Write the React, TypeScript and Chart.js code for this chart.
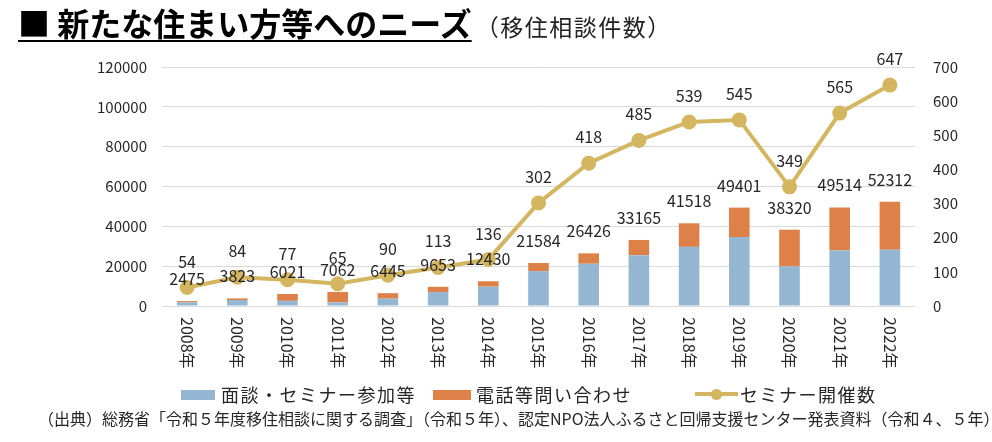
import React, { useEffect, useRef } from "react";
import { Chart, registerables } from "chart.js";

Chart.register(...registerables);

const years = ["2008年","2009年","2010年","2011年","2012年","2013年","2014年","2015年","2016年","2017年","2018年","2019年","2020年","2021年","2022年"];
const interviews = [1800, 3000, 2600, 1800, 3700, 7000, 9700, 17500, 21200, 25500, 29700, 34600, 19900, 27900, 28300];
const phoneInquiries = [675, 823, 3421, 5262, 2745, 2653, 2730, 4084, 5226, 7665, 11818, 14801, 18420, 21614, 24012];
const totalLabels = [2475, 3823, 6021, 7062, 6445, 9653, 12430, 21584, 26426, 33165, 41518, 49401, 38320, 49514, 52312];
const seminars = [54, 84, 77, 65, 90, 113, 136, 302, 418, 485, 539, 545, 349, 565, 647];
const leftTicks = [0, 20000, 40000, 60000, 80000, 100000, 120000];
const rightTicks = [0, 100, 200, 300, 400, 500, 600, 700];

const BLUE = "#94b6d3";
const ORANGE = "#dd8148";
const GOLD = "#d4b660";
const TEXT = "#262626";
const FONT = "'Noto Sans CJK JP', 'Noto Sans', sans-serif";

const labelPlugin = {
  id: "customLabels",
  afterDatasetsDraw(chart: any) {
    const ctx = chart.ctx;
    ctx.save();
    ctx.fillStyle = TEXT;
    ctx.font = `16px ${FONT}`;
    ctx.textAlign = "center";
    ctx.textBaseline = "middle";
    const top = chart.getDatasetMeta(1);
    totalLabels.forEach((t, i) => {
      const el = top.data[i];
      ctx.fillText(String(t), el.x, el.y - 22);
    });
    const line = chart.getDatasetMeta(2);
    seminars.forEach((s, i) => {
      const el = line.data[i];
      ctx.fillText(String(s), el.x, el.y - 26);
    });
    const xs = chart.scales.x;
    ctx.textAlign = "left";
    years.forEach((y, i) => {
      const x = xs.getPixelForTick(i);
      ctx.save();
      ctx.translate(x, chart.chartArea.bottom + 11);
      ctx.rotate(Math.PI / 2);
      ctx.fillText(y, 0, 0);
      ctx.restore();
    });
    ctx.restore();
  },
};

export default function App() {
  const ref = useRef<HTMLCanvasElement>(null);
  useEffect(() => {
    const chart = new Chart(ref.current as HTMLCanvasElement, {
      type: "bar",
      data: {
        labels: years,
        datasets: [
          { type: "bar", label: "面談・セミナー参加等", data: interviews, backgroundColor: BLUE, stack: "s", yAxisID: "y", order: 1, barPercentage: 0.41, categoryPercentage: 1 },
          { type: "bar", label: "電話等問い合わせ", data: phoneInquiries, backgroundColor: ORANGE, stack: "s", yAxisID: "y", order: 2, barPercentage: 0.41, categoryPercentage: 1 },
          { type: "line", label: "セミナー開催数", data: seminars, borderColor: GOLD, backgroundColor: GOLD, borderWidth: 4, pointRadius: 5.5, pointBackgroundColor: GOLD, pointBorderColor: GOLD, yAxisID: "y1", order: 0, tension: 0 } as any,
        ],
      },
      options: {
        animation: false,
        responsive: false,
        devicePixelRatio: 1,
        layout: { padding: { top: 67, left: 0, right: 0, bottom: 0 } },
        plugins: { legend: { display: false }, tooltip: { enabled: false }, title: { display: false } },
        scales: {
          x: {
            stacked: true,
            grid: { display: false },
            border: { display: false },
            ticks: { display: false },
            afterFit: (s: any) => { s.height = 136; },
          },
          y: {
            stacked: true,
            position: "left",
            min: 0,
            max: 120000,
            afterBuildTicks: (s: any) => { s.ticks = leftTicks.map((v) => ({ value: v })); },
            grid: { color: "#d9d9d9", lineWidth: 1, drawTicks: false },
            border: { display: false },
            ticks: { padding: 15, color: TEXT, font: { family: FONT, size: 15 }, callback: (v: any) => String(v) },
            afterFit: (s: any) => { s.width = 162; },
          },
          y1: {
            position: "right",
            min: 0,
            max: 700,
            afterBuildTicks: (s: any) => { s.ticks = rightTicks.map((v) => ({ value: v })); },
            grid: { display: false, drawTicks: false },
            border: { display: false },
            ticks: { padding: 18, color: TEXT, font: { family: FONT, size: 15 }, callback: (v: any) => String(v) },
            afterFit: (s: any) => { s.width = 77; },
          },
        },
      },
      plugins: [labelPlugin],
    } as any);
    return () => chart.destroy();
  }, []);

  const legendText: React.CSSProperties = { position: "absolute", top: 382, fontFamily: FONT, fontSize: 18, letterSpacing: "1.5px", color: TEXT, lineHeight: "24px", whiteSpace: "nowrap" };

  return (
    <div style={{ position: "fixed", left: 0, top: 0, width: 992, height: 442, background: "#fff", overflow: "hidden" }}>
      <canvas ref={ref} width={992} height={442} style={{ position: "absolute", left: 0, top: 0, width: 992, height: 442 }} />
      <div style={{ position: "absolute", left: 18, top: 2, whiteSpace: "nowrap", fontFamily: FONT, color: "#000", lineHeight: "40px" }}>
        <span style={{ fontSize: 32, fontWeight: 700, textDecoration: "underline", textDecorationThickness: "2px", textUnderlineOffset: "4px" }}>■ 新たな住まい方等へのニーズ</span>
        <span style={{ fontSize: 23, marginLeft: 4, letterSpacing: "1.5px", color: "#222" }}>（移住相談件数）</span>
      </div>
      <div style={{ position: "absolute", left: 181, top: 390, width: 34, height: 10, background: BLUE }} />
      <div style={{ ...legendText, left: 221 }}>面談・セミナー参加等</div>
      <div style={{ position: "absolute", left: 433, top: 390, width: 38, height: 10, background: ORANGE }} />
      <div style={{ ...legendText, left: 476 }}>電話等問い合わせ</div>
      <div style={{ position: "absolute", left: 695, top: 392, width: 43, height: 4, background: GOLD }} />
      <div style={{ position: "absolute", left: 711, top: 389, width: 11, height: 11, borderRadius: "50%", background: GOLD }} />
      <div style={{ ...legendText, left: 740 }}>セミナー開催数</div>
      <div style={{ position: "absolute", left: 38, top: 407, fontFamily: FONT, fontSize: 16, color: TEXT, lineHeight: "22px", whiteSpace: "nowrap" }}>
        （出典）総務省「令和５年度移住相談に関する調査」（令和５年）、認定NPO法人ふるさと回帰支援センター発表資料（令和４、５年）
      </div>
    </div>
  );
}
